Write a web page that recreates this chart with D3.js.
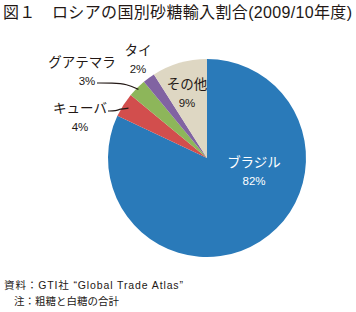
<!DOCTYPE html>
<html>
<head>
<meta charset="utf-8">
<script src="https://cdn.jsdelivr.net/npm/d3@7"></script>
<style>
body { margin: 0; background: #fff; }
text { font-family: "Liberation Sans", "Noto Sans CJK JP", sans-serif; fill: #231815; }
</style>
</head>
<body>
<div class="chart-wrapper"></div>
<script>
const countries = ['ブラジル', 'キューバ', 'グアテマラ', 'タイ', 'その他']
const shares = [82, 4, 3, 2, 9]
const colours = ['#2a7ab9', '#d24e4d', '#8db65a', '#8163a2', '#ded7c3']

const width = 356
const height = 312
const cx = 207
const cy = 158
const radius = 99

const svg = d3.select('.chart-wrapper')
  .append('svg')
  .attr('width', width)
  .attr('height', height)

svg.append('text')
  .attr('x', 3)
  .attr('y', 18)
  .attr('textLength', 349)
  .attr('lengthAdjust', 'spacing')
  .style('font-size', '16px')
  .text('図１　ロシアの国別砂糖輸入割合(2009/10年度)')

const data = countries.map((c, i) => ({name: c, value: shares[i]}))

const pie = d3.pie().sort(null).value(d => d.value)
const arc = d3.arc().innerRadius(0).outerRadius(radius)

const g = svg.append('g').attr('transform', 'translate(' + cx + ',' + cy + ')')

g.selectAll('path')
  .data(pie(data))
  .enter()
  .append('path')
  .attr('d', arc)
  .attr('fill', (d, i) => colours[i])

// label spots relative to centre (name line, % line below)
const labelPos = [
  {x: 47, y: 9, fill: '#fff'},
  {x: -127, y: -45},
  {x: -125, y: -91},
  {x: -69, y: -103},
  {x: -20, y: -69}
]

const labels = svg.append('g').attr('transform', 'translate(' + cx + ',' + cy + ')')

data.forEach((d, i) => {
  let p = labelPos[i]
  labels.append('text')
    .attr('x', p.x)
    .attr('y', p.y)
    .attr('text-anchor', 'middle')
    .style('font-size', '13.5px')
    .style('fill', p.fill || '#231815')
    .text(d.name)
  labels.append('text')
    .attr('x', p.x + (i == 2 ? 5 : 0))
    .attr('y', p.y + 18)
    .attr('text-anchor', 'middle')
    .style('font-size', '11.5px')
    .style('fill', p.fill || '#231815')
    .text(d.value + '%')
})

// leader lines for the small slices
const leader = d3.line().curve(d3.curveBasis)
const arcs = pie(data)
function edgePoint(a, r) {
  let m = (a.startAngle + a.endAngle) / 2
  return [Math.sin(m) * r, -Math.cos(m) * r]
}
let cubaEnd = edgePoint(arcs[1], radius - 6)
let guatEnd = edgePoint(arcs[2], radius - 2)

labels.append('path')
  .attr('d', leader([[-99, -47], [-91, -47], [-87, -49], cubaEnd]))
  .attr('fill', 'none')
  .attr('stroke', '#231815')
  .attr('stroke-width', 1.2)

labels.append('path')
  .attr('d', leader([[-110, -75], [-95, -75], [-80, -74], guatEnd]))
  .attr('fill', 'none')
  .attr('stroke', '#231815')
  .attr('stroke-width', 1.2)

svg.append('text')
  .attr('x', 4)
  .attr('y', 289)
  .attr('textLength', 179)
  .attr('lengthAdjust', 'spacing')
  .style('font-size', '10.5px')
  .text('資料：GTI社 “Global Trade Atlas”')

svg.append('text')
  .attr('x', 14)
  .attr('y', 305)
  .style('font-size', '10.5px')
  .text('注：粗糖と白糖の合計')
</script>
</body>
</html>
